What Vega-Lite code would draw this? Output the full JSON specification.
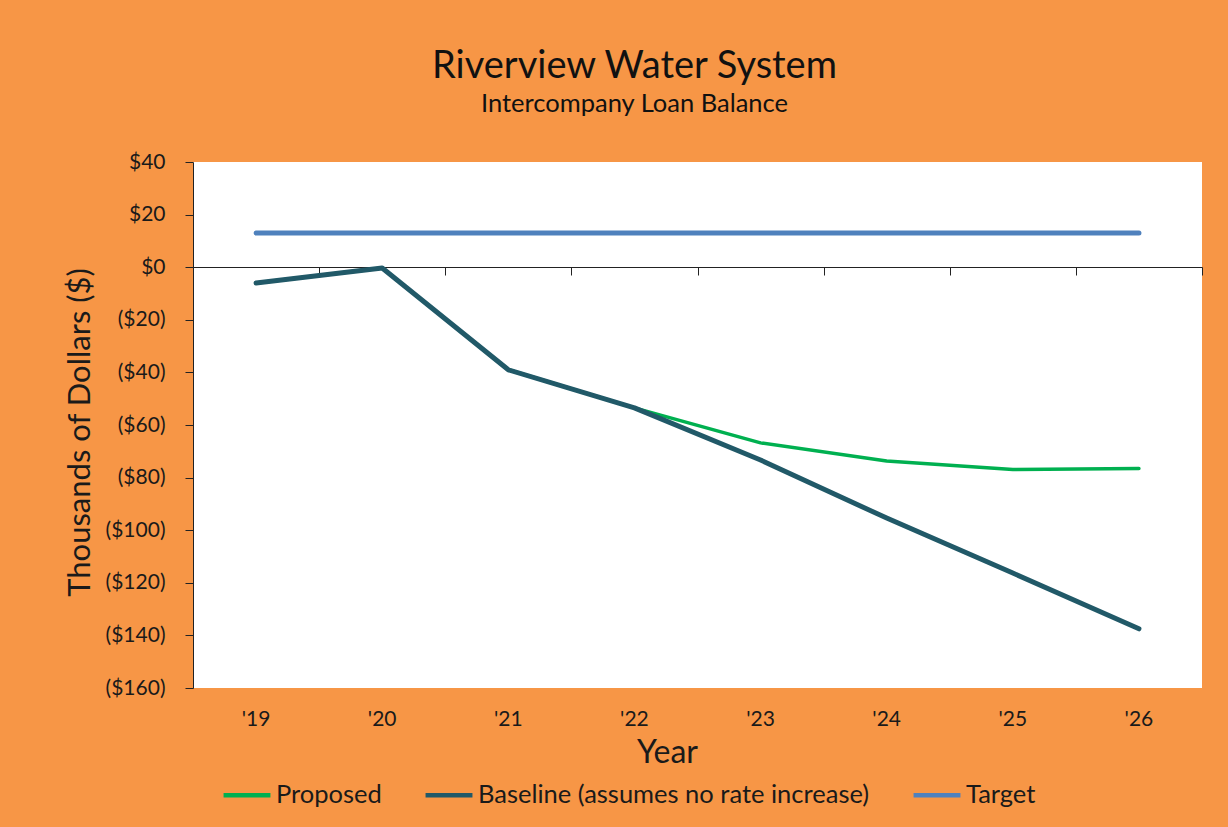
{
  "$schema": "https://vega.github.io/schema/vega-lite/v6.json",
  "width": 1009,
  "height": 526,
  "autosize": {"type": "none"},
  "padding": {"left": 193, "top": 162, "right": 26, "bottom": 139},
  "background": "#F79646",
  "config": {
    "font": "Lato",
    "view": {"fill": "white", "stroke": null},
    "axis": {"labelColor": "#1a1a1a", "titleColor": "#1a1a1a", "labelFont": "Lato", "titleFont": "Lato", "titleFontWeight": "normal", "grid": false, "domainColor": "#222", "tickColor": "#222"}
  },
  "title": {
    "text": "Riverview Water System",
    "subtitle": "Intercompany Loan Balance",
    "anchor": "middle",
    "frame": "group",
    "dx": -63,
    "offset": 34,
    "fontSize": 38,
    "fontWeight": "normal",
    "color": "#111",
    "subtitleFontSize": 25.5,
    "subtitleColor": "#111",
    "subtitlePadding": 6,
    "font": "Lato",
    "subtitleFont": "Lato"
  },
  "data": {
    "values": [
      {"year": "'19", "series": "Proposed", "value": -6},
      {"year": "'20", "series": "Proposed", "value": -0.3},
      {"year": "'21", "series": "Proposed", "value": -39},
      {"year": "'22", "series": "Proposed", "value": -53.5},
      {"year": "'23", "series": "Proposed", "value": -66.8},
      {"year": "'24", "series": "Proposed", "value": -73.7},
      {"year": "'25", "series": "Proposed", "value": -76.9},
      {"year": "'26", "series": "Proposed", "value": -76.5},
      {"year": "'19", "series": "Baseline (assumes no rate increase)", "value": -6},
      {"year": "'20", "series": "Baseline (assumes no rate increase)", "value": -0.3},
      {"year": "'21", "series": "Baseline (assumes no rate increase)", "value": -39},
      {"year": "'22", "series": "Baseline (assumes no rate increase)", "value": -53.5},
      {"year": "'23", "series": "Baseline (assumes no rate increase)", "value": -73.3},
      {"year": "'24", "series": "Baseline (assumes no rate increase)", "value": -95.4},
      {"year": "'25", "series": "Baseline (assumes no rate increase)", "value": -116.3},
      {"year": "'26", "series": "Baseline (assumes no rate increase)", "value": -137.5},
      {"year": "'19", "series": "Target", "value": 13},
      {"year": "'20", "series": "Target", "value": 13},
      {"year": "'21", "series": "Target", "value": 13},
      {"year": "'22", "series": "Target", "value": 13},
      {"year": "'23", "series": "Target", "value": 13},
      {"year": "'24", "series": "Target", "value": 13},
      {"year": "'25", "series": "Target", "value": 13},
      {"year": "'26", "series": "Target", "value": 13}
    ]
  },
  "encoding": {
    "y": {
      "field": "value",
      "type": "quantitative",
      "scale": {"domain": [-160, 40], "nice": false, "zero": false},
      "axis": {
        "values": [40, 20, 0, -20, -40, -60, -80, -100, -120, -140, -160],
        "labelExpr": "datum.value < 0 ? '($' + format(-datum.value, 'd') + ')' : '$' + format(datum.value, 'd')",
        "labelFontSize": 21,
        "labelPadding": 20,
        "tickSize": 8,
        "title": "Thousands of Dollars ($)",
        "titleFontSize": 31,
        "titleX": -113,
        "titleY": 270,
        "titleBaseline": "middle",
        "titleAlign": "center",
        "titleAngle": -90
      }
    }
  },
  "layer": [
    {
      "transform": [{"filter": "datum.series === 'Target'"}],
      "mark": {"type": "line", "opacity": 0},
      "encoding": {
        "x": {
          "field": "year",
          "type": "ordinal",
          "scale": {"type": "band", "paddingInner": 0, "paddingOuter": 0},
          "axis": {
            "orient": "bottom",
            "offset": -421,
            "labels": false,
            "ticks": true,
            "tickSize": 8,
            "tickBand": "extent",
            "domain": true,
            "domainColor": "#222",
            "title": null
          }
        }
      }
    },
    {
      "transform": [{"filter": "datum.series === 'Proposed'"}],
      "mark": {"type": "line", "strokeWidth": 3.5, "strokeCap": "round", "strokeJoin": "round"},
      "encoding": {
        "x": {
          "field": "year",
          "type": "ordinal",
          "scale": {"type": "band", "paddingInner": 0, "paddingOuter": 0},
          "axis": {
            "orient": "bottom",
            "labelAngle": 0,
            "labelFontSize": 21,
            "labelPadding": 20,
            "ticks": false,
            "domain": false,
            "title": "Year",
            "titleFontSize": 32,
            "titlePadding": 8,
            "titleX": 474,
            "titleAlign": "center"
          }
        },
        "color": {
          "field": "series",
          "type": "nominal",
          "scale": {
            "domain": ["Proposed", "Baseline (assumes no rate increase)", "Target"],
            "range": ["#00B050", "#215968", "#4F81BD"]
          },
          "legend": {
            "orient": "none",
            "direction": "horizontal",
            "legendX": 28,
            "legendY": 607,
            "title": null,
            "symbolType": "stroke",
            "symbolSize": 2200,
            "symbolStrokeWidth": 4.5,
            "labelFontSize": 25.5,
            "labelFont": "Lato",
            "labelColor": "#1a1a1a",
            "labelLimit": 0,
            "labelOffset": 3,
            "columnPadding": 34
          }
        }
      }
    },
    {
      "transform": [{"filter": "datum.series === 'Baseline (assumes no rate increase)'"}],
      "mark": {"type": "line", "strokeWidth": 5, "strokeCap": "round", "strokeJoin": "round"},
      "encoding": {
        "x": {"field": "year", "type": "ordinal", "axis": null},
        "color": {"field": "series", "type": "nominal"}
      }
    },
    {
      "transform": [{"filter": "datum.series === 'Target'"}],
      "mark": {"type": "line", "strokeWidth": 5, "strokeCap": "round", "strokeJoin": "round"},
      "encoding": {
        "x": {"field": "year", "type": "ordinal", "axis": null},
        "color": {"field": "series", "type": "nominal"}
      }
    }
  ],
  "resolve": {"axis": {"x": "independent"}}
}
